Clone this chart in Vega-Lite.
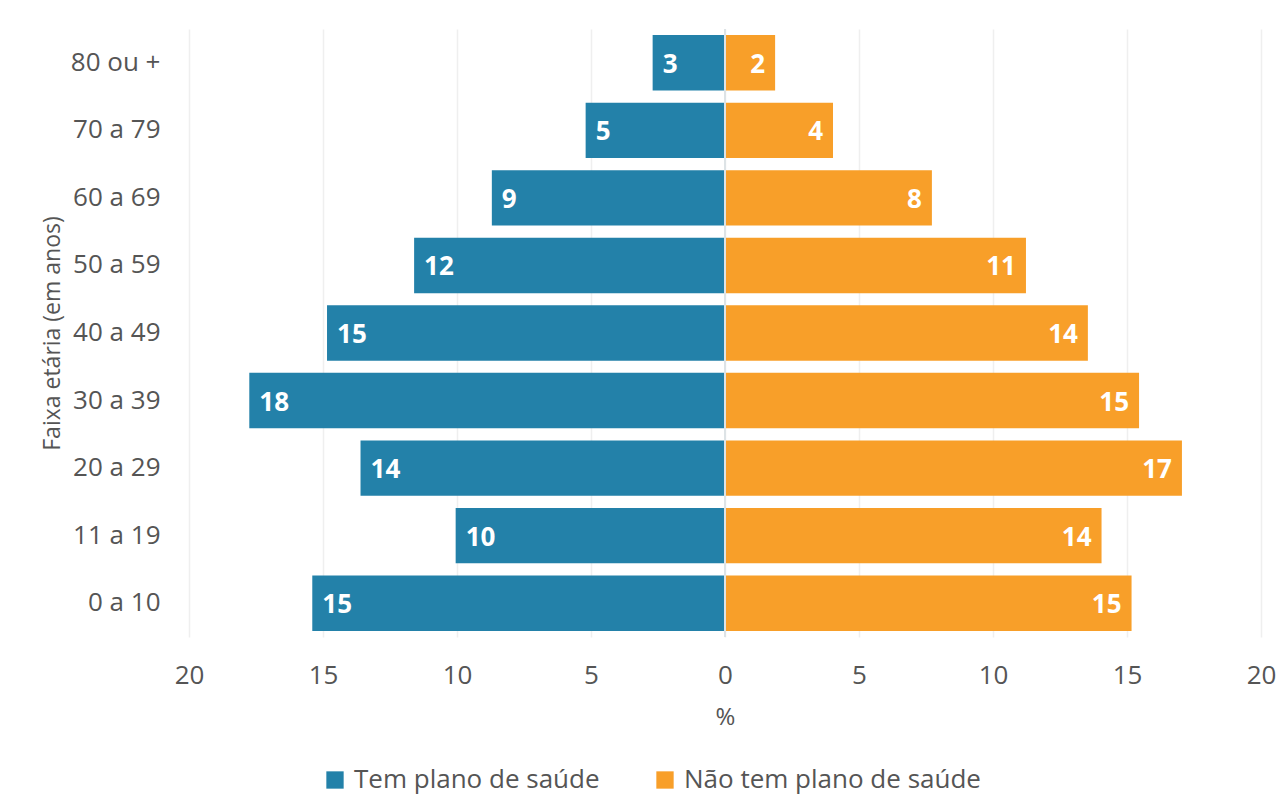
{
  "$schema": "https://vega.github.io/schema/vega-lite/v6.json",
  "width": 1072,
  "height": 608,
  "autosize": {"type": "none"},
  "padding": {"left": 189, "top": 29, "right": 21, "bottom": 166},
  "background": "white",
  "config": {
    "font": "Open Sans",
    "view": {"stroke": null}
  },
  "data": {
    "values": [
      {"faixa": "80 ou +", "grupo": "Tem plano de saúde", "valor": -2.7, "rotulo": 3},
      {"faixa": "70 a 79", "grupo": "Tem plano de saúde", "valor": -5.2, "rotulo": 5},
      {"faixa": "60 a 69", "grupo": "Tem plano de saúde", "valor": -8.7, "rotulo": 9},
      {"faixa": "50 a 59", "grupo": "Tem plano de saúde", "valor": -11.6, "rotulo": 12},
      {"faixa": "40 a 49", "grupo": "Tem plano de saúde", "valor": -14.85, "rotulo": 15},
      {"faixa": "30 a 39", "grupo": "Tem plano de saúde", "valor": -17.75, "rotulo": 18},
      {"faixa": "20 a 29", "grupo": "Tem plano de saúde", "valor": -13.6, "rotulo": 14},
      {"faixa": "11 a 19", "grupo": "Tem plano de saúde", "valor": -10.05, "rotulo": 10},
      {"faixa": "0 a 10", "grupo": "Tem plano de saúde", "valor": -15.4, "rotulo": 15},
      {"faixa": "80 ou +", "grupo": "Não tem plano de saúde", "valor": 1.87, "rotulo": 2},
      {"faixa": "70 a 79", "grupo": "Não tem plano de saúde", "valor": 4.03, "rotulo": 4},
      {"faixa": "60 a 69", "grupo": "Não tem plano de saúde", "valor": 7.72, "rotulo": 8},
      {"faixa": "50 a 59", "grupo": "Não tem plano de saúde", "valor": 11.23, "rotulo": 11},
      {"faixa": "40 a 49", "grupo": "Não tem plano de saúde", "valor": 13.54, "rotulo": 14},
      {"faixa": "30 a 39", "grupo": "Não tem plano de saúde", "valor": 15.45, "rotulo": 15},
      {"faixa": "20 a 29", "grupo": "Não tem plano de saúde", "valor": 17.05, "rotulo": 17},
      {"faixa": "11 a 19", "grupo": "Não tem plano de saúde", "valor": 14.05, "rotulo": 14},
      {"faixa": "0 a 10", "grupo": "Não tem plano de saúde", "valor": 15.17, "rotulo": 15}
    ]
  },
  "encoding": {
    "y": {
      "field": "faixa",
      "type": "nominal",
      "sort": ["80 ou +", "70 a 79", "60 a 69", "50 a 59", "40 a 49", "30 a 39", "20 a 29", "11 a 19", "0 a 10"],
      "scale": {"paddingInner": 0.18, "paddingOuter": 0.09},
      "axis": {
        "title": "Faixa etária (em anos)",
        "titleFontSize": 23,
        "titleFontWeight": "normal",
        "titleColor": "#555555",
        "titlePadding": 6,
        "labelFontSize": 26,
        "labelColor": "#555555",
        "labelPadding": 29,
        "ticks": false,
        "domain": false
      }
    },
    "x": {
      "field": "valor",
      "type": "quantitative",
      "scale": {"domain": [-20, 20], "nice": false},
      "axis": {
        "title": "%",
        "titleFontSize": 24,
        "titleFontWeight": "normal",
        "titleColor": "#555555",
        "titlePadding": 17,
        "values": [-20, -15, -10, -5, 0, 5, 10, 15, 20],
        "labelExpr": "abs(datum.value)",
        "labelFontSize": 26,
        "labelColor": "#555555",
        "labelPadding": 25,
        "labelFlush": false,
        "ticks": false,
        "domain": false,
        "grid": true,
        "gridColor": "#efefef",
        "gridWidth": 1.5
      }
    }
  },
  "layer": [
    {
      "mark": {"type": "bar"},
      "encoding": {
        "color": {
          "field": "grupo",
          "type": "nominal",
          "scale": {"domain": ["Tem plano de saúde", "Não tem plano de saúde"], "range": ["#2381a9", "#f89f29"]},
          "legend": {
            "title": null,
            "orient": "none",
            "legendX": 133,
            "legendY": 738,
            "direction": "horizontal",
            "symbolType": "square",
            "symbolSize": 300,
            "symbolStrokeWidth": 0,
            "labelFontSize": 26,
            "labelColor": "#555555",
            "labelLimit": 0,
            "labelOffset": 6,
            "columnPadding": 52
          }
        }
      }
    },
    {
      "mark": {"type": "rule", "color": "#dde3e6", "strokeWidth": 2},
      "encoding": {"x": {"datum": 0}, "y": null}
    },
    {
      "transform": [{"filter": "datum.valor < 0"}],
      "mark": {"type": "text", "align": "left", "dx": 10, "dy": 2, "color": "white", "fontWeight": "bold", "fontSize": 26},
      "encoding": {"text": {"field": "rotulo"}}
    },
    {
      "transform": [{"filter": "datum.valor > 0"}],
      "mark": {"type": "text", "align": "right", "dx": -10, "dy": 2, "color": "white", "fontWeight": "bold", "fontSize": 26},
      "encoding": {"text": {"field": "rotulo"}}
    }
  ]
}
